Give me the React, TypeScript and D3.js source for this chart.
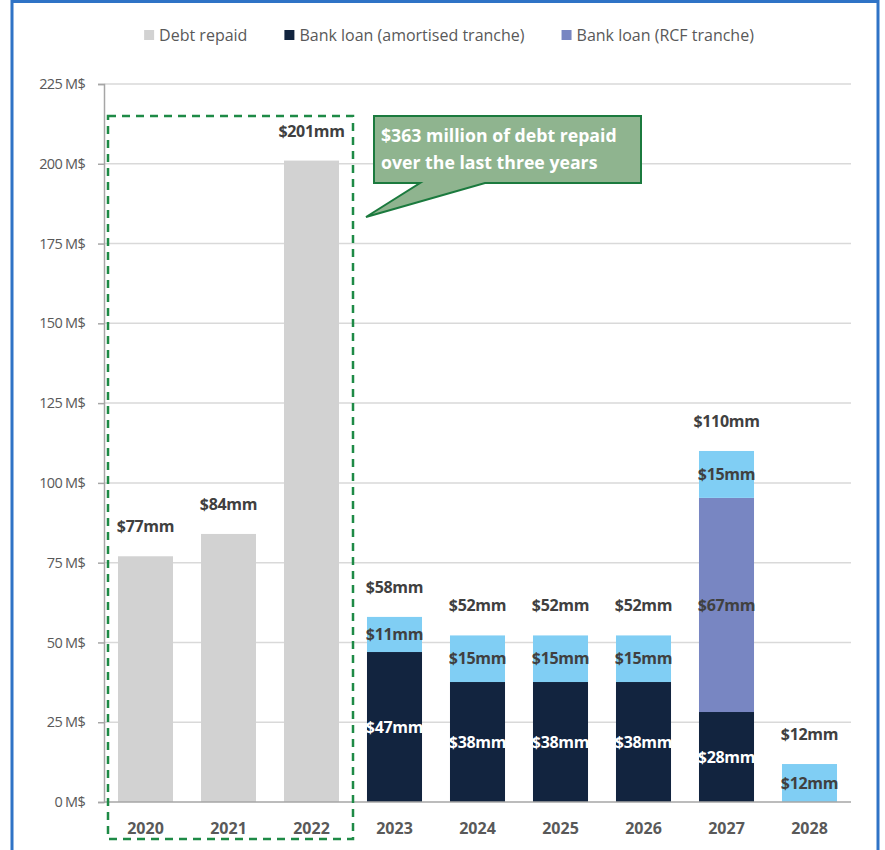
import React, { useEffect, useRef } from "react";
import * as d3 from "d3";

const years = ["2020", "2021", "2022", "2023", "2024", "2025", "2026", "2027", "2028"];
const debtRepaid = [77, 84, 201, 0, 0, 0, 0, 0, 0];
const amortised = [0, 0, 0, 47, 37.6, 37.6, 37.6, 28.2, 0];
const rcf = [0, 0, 0, 0, 0, 0, 0, 67.1, 0];
const otherTranche = [0, 0, 0, 11, 14.6, 14.6, 14.6, 14.7, 11.9];
const yTicks = [0, 25, 50, 75, 100, 125, 150, 175, 200, 225];
const legendLabels = ["Debt repaid", "Bank loan (amortised tranche)", "Bank loan (RCF tranche)"];
const calloutLines = ["$363 million of debt repaid", "over the last three years"];

const W = 885;
const H = 850;
const FONT = "'Open Sans', 'Noto Sans', sans-serif";
const C_GREY = "#D2D2D2";
const C_NAVY = "#12243F";
const C_RCF = "#7886C2";
const C_LIGHT = "#80CEF4";
const C_TEXT = "#404040";
const C_AXIS = "#595959";

export default function App() {
  const ref = useRef<SVGSVGElement | null>(null);

  useEffect(() => {
    const svg = d3.select(ref.current);
    svg.selectAll("*").remove();

    const x = d3.scaleBand<string>().domain(years).range([104, 851]).paddingInner(0.337).paddingOuter(0.1685);
    const y = d3.scaleLinear().domain([0, 225]).range([802, 84]);

    // frame
    svg.append("rect").attr("x", 12).attr("y", 1.5).attr("width", 866).attr("height", 870)
      .attr("fill", "white").attr("stroke", "#2F73C6").attr("stroke-width", 3);

    // gridlines
    const g = svg.append("g");
    g.selectAll("line.grid").data(yTicks.filter((t) => t > 0)).join("line")
      .attr("x1", 104).attr("x2", 851).attr("y1", (d) => y(d)).attr("y2", (d) => y(d))
      .attr("stroke", "#D9D9D9").attr("stroke-width", 1.5);

    // y axis
    const yAxis = d3.axisLeft(y).tickValues(yTicks).tickSize(6).tickFormat((d) => `${d} M$`);
    const ya = svg.append("g").attr("transform", "translate(104,0)").call(yAxis);
    ya.select(".domain").attr("stroke", "#A6A6A6").attr("stroke-width", 1.5);
    ya.selectAll(".tick line").attr("stroke", "#A6A6A6").attr("stroke-width", 1.5);
    ya.selectAll(".tick text").attr("font-family", FONT).attr("font-size", 14.5).attr("fill", C_AXIS)
      .attr("letter-spacing", -0.7).attr("x", -19);

    // stacked bars
    const series: { vals: number[]; color: string; labelColor: string | null }[] = [
      { vals: debtRepaid, color: C_GREY, labelColor: null },
      { vals: amortised, color: C_NAVY, labelColor: "#FFFFFF" },
      { vals: rcf, color: C_RCF, labelColor: C_TEXT },
      { vals: otherTranche, color: C_LIGHT, labelColor: C_TEXT },
    ];
    const bw = x.bandwidth();
    years.forEach((yr, i) => {
      let base = 0;
      series.forEach((s) => {
        const v = s.vals[i];
        if (v > 0) {
          svg.append("rect").attr("x", x(yr)!).attr("width", bw)
            .attr("y", y(base + v)).attr("height", y(base) - y(base + v)).attr("fill", s.color);
          base += v;
        }
      });
    });
    // baseline
    svg.append("line").attr("x1", 104).attr("x2", 851).attr("y1", y(0)).attr("y2", y(0))
      .attr("stroke", "#A6A6A6").attr("stroke-width", 1.5);

    // segment labels
    years.forEach((yr, i) => {
      let base = 0;
      const cx = x(yr)! + bw / 2;
      series.forEach((s) => {
        const v = s.vals[i];
        if (v > 0) {
          if (s.labelColor) {
            svg.append("text").attr("x", cx).attr("y", y(base + v / 2)).attr("dy", "0.36em")
              .attr("text-anchor", "middle").attr("font-family", FONT).attr("font-weight", 700)
              .attr("font-size", 16).attr("fill", s.labelColor).attr("letter-spacing", -0.3)
              .text(`$${Math.round(v)}mm`);
          }
          base += v;
        }
      });
      svg.append("text").attr("x", cx).attr("y", y(base) - 24)
        .attr("text-anchor", "middle").attr("font-family", FONT).attr("font-weight", 700)
        .attr("font-size", 16).attr("fill", C_TEXT).attr("letter-spacing", -0.3)
        .text(`$${Math.round(base)}mm`);
    });

    // category labels
    years.forEach((yr) => {
      svg.append("text").attr("x", x(yr)! + bw / 2).attr("y", 834)
        .attr("text-anchor", "middle").attr("font-family", FONT).attr("font-weight", 700)
        .attr("font-size", 16).attr("fill", C_AXIS).text(yr);
    });

    // dashed highlight box
    svg.append("rect").attr("x", 108).attr("y", 116).attr("width", 245).attr("height", 723)
      .attr("fill", "none").attr("stroke", "#1E8A46").attr("stroke-width", 2.5)
      .attr("stroke-dasharray", "8,6");

    // callout
    const path = d3.path();
    path.moveTo(374, 116);
    path.lineTo(641, 116);
    path.lineTo(641, 183);
    path.lineTo(485, 183);
    path.lineTo(366, 217);
    path.lineTo(420, 183);
    path.lineTo(374, 183);
    path.closePath();
    svg.append("path").attr("d", path.toString()).attr("fill", "#8FB48F")
      .attr("stroke", "#1B7A3E").attr("stroke-width", 2);
    calloutLines.forEach((line, i) => {
      svg.append("text").attr("x", 381).attr("y", 142 + i * 27).attr("font-family", FONT)
        .attr("font-weight", 700).attr("font-size", 17.7).attr("fill", "#FFFFFF").text(line);
    });

    // legend
    const colors = [C_GREY, C_NAVY, C_RCF];
    const lg = svg.append("g");
    let cursor = 0;
    legendLabels.forEach((lbl, i) => {
      const t = lg.append("text").attr("y", 35).attr("dy", "0.35em").attr("font-family", FONT)
        .attr("font-size", 16).attr("fill", C_AXIS).text(lbl);
      const w = (t.node() as SVGTextElement).getComputedTextLength();
      lg.append("rect").attr("x", cursor).attr("y", 30).attr("width", 10).attr("height", 10).attr("fill", colors[i]);
      t.attr("x", cursor + 15);
      cursor += 15 + w + 37;
    });
    const total = cursor - 37;
    lg.attr("transform", `translate(${449 - total / 2},0)`);
  }, []);

  return (
    <div style={{ position: "absolute", left: 0, top: 0 }}>
      <svg ref={ref} width={W} height={H} style={{ display: "block", background: "white" }} />
    </div>
  );
}
